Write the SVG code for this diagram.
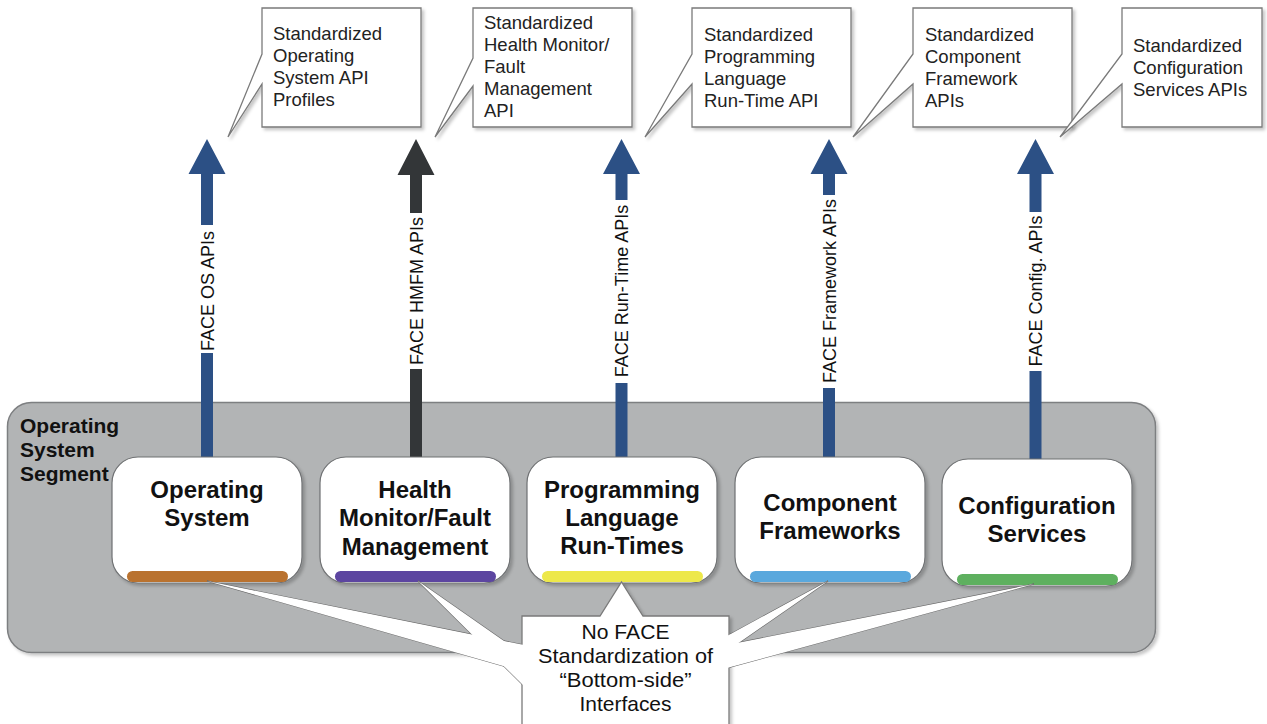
<svg xmlns="http://www.w3.org/2000/svg" width="1267" height="724" viewBox="0 0 1267 724">
  <defs>
    <filter id="shadow" x="-10%" y="-10%" width="130%" height="130%">
      <feDropShadow dx="2.5" dy="2.5" stdDeviation="1.6" flood-color="#000" flood-opacity="0.22"/>
    </filter>
    <style>
      .seg{fill:#b2b4b5;stroke:#7d7f81;stroke-width:1.5}
      .node{fill:#fff;stroke:#6f7173;stroke-width:1.2}
      .ntext{font-family:"Liberation Sans",Arial,sans-serif;font-weight:bold;font-size:24px;fill:#111;text-anchor:middle}
      .segtext{font-family:"Liberation Sans",Arial,sans-serif;font-weight:bold;font-size:21px;fill:#111}
      .callout{fill:#fff;stroke:#7a7a7a;stroke-width:1.3}
      .wedge{fill:#fff;stroke:#6a6a6a;stroke-width:1.2}
      .cover{fill:#fff;stroke:none}
      .ctext{font-family:"Liberation Sans",Arial,sans-serif;font-size:18.5px;fill:#222}
      .btext{font-family:"Liberation Sans",Arial,sans-serif;font-size:21px;fill:#111;text-anchor:middle}
      .api{fill:#2c5085}
      .api-hm{fill:#333638}
      .lblbg{fill:#fff}
      .lbl{font-family:"Liberation Sans",Arial,sans-serif;font-size:18px;fill:#111;text-anchor:middle}
    </style>
  </defs>

  <rect x="0" y="0" width="1267" height="724" fill="#fff"/>

  <!-- Operating System Segment container -->
  <g id="segment">
    <rect class="seg" x="7.5" y="402.5" width="1148" height="250" rx="24" filter="url(#shadow)"/>
    <text class="segtext" x="20" y="433">Operating</text>
    <text class="segtext" x="20" y="457">System</text>
    <text class="segtext" x="20" y="481">Segment</text>
  </g>

  <!-- API arrows -->
  <g id="connectors">
    <polygon class="api" points="207,139 225.5,174 213,174 213,460 201,460 201,174 188.5,174"/>
    <polygon class="api-hm" points="416,139 434.5,175 422,175 422,460 410,460 410,175 397.5,175"/>
    <polygon class="api" points="621.5,139 640,174 627.5,174 627.5,460 615.5,460 615.5,174 603,174"/>
    <polygon class="api" points="829,139 847.5,174 835,174 835,460 823,460 823,174 810.5,174"/>
    <polygon class="api" points="1035.5,139 1054,174 1041.5,174 1041.5,460 1029.5,460 1029.5,174 1017,174"/>

    <rect class="lblbg" x="198" y="225" width="18" height="128"/>
    <text class="lbl" transform="translate(213.5,291) rotate(-90)">FACE OS APIs</text>
    <rect class="lblbg" x="407" y="213" width="18" height="156"/>
    <text class="lbl" transform="translate(422.5,291) rotate(-90)">FACE HMFM APIs</text>
    <rect class="lblbg" x="612.5" y="200" width="18" height="183"/>
    <text class="lbl" transform="translate(628,291) rotate(-90)">FACE Run-Time APIs</text>
    <rect class="lblbg" x="820" y="195" width="18" height="193"/>
    <text class="lbl" transform="translate(835.5,291) rotate(-90)">FACE Framework APIs</text>
    <rect class="lblbg" x="1026.5" y="212" width="18" height="159"/>
    <text class="lbl" transform="translate(1042,291) rotate(-90)">FACE Config. APIs</text>
  </g>

  <!-- Segment components -->
  <g id="node-os">
    <rect class="node" x="112" y="457" width="190" height="126" rx="26" filter="url(#shadow)"/>
    <rect x="127" y="571" width="161" height="11" rx="5.5" fill="#b9722f"/>
    <text class="ntext" x="207" y="498">Operating</text>
    <text class="ntext" x="207" y="526">System</text>
  </g>
  <g id="node-hmfm">
    <rect class="node" x="320" y="457" width="190" height="126" rx="26" filter="url(#shadow)"/>
    <rect x="335" y="571" width="161" height="11" rx="5.5" fill="#5c45a0"/>
    <text class="ntext" x="415" y="498">Health</text>
    <text class="ntext" x="415" y="526">Monitor/Fault</text>
    <text class="ntext" x="415" y="555">Management</text>
  </g>
  <g id="node-plrt">
    <rect class="node" x="527" y="457" width="190" height="126" rx="26" filter="url(#shadow)"/>
    <rect x="542" y="571" width="161" height="11" rx="5.5" fill="#ede84a"/>
    <text class="ntext" x="622" y="498">Programming</text>
    <text class="ntext" x="622" y="526">Language</text>
    <text class="ntext" x="622" y="554">Run-Times</text>
  </g>
  <g id="node-cf">
    <rect class="node" x="735" y="457" width="190" height="126" rx="26" filter="url(#shadow)"/>
    <rect x="750" y="571" width="161" height="11" rx="5.5" fill="#5aa8dd"/>
    <text class="ntext" x="830" y="511">Component</text>
    <text class="ntext" x="830" y="539">Frameworks</text>
  </g>
  <g id="node-cs">
    <rect class="node" x="942" y="459" width="190" height="127" rx="26" filter="url(#shadow)"/>
    <rect x="957" y="574" width="161" height="11" rx="5.5" fill="#5eb05f"/>
    <text class="ntext" x="1037" y="514">Configuration</text>
    <text class="ntext" x="1037" y="542">Services</text>
  </g>

  <!-- Top callouts -->
  <g id="callout-os">
    <path class="callout" d="M262,8 H421 V127 H262 V84 L228,137 L262,54 Z" filter="url(#shadow)"/>
    <text class="ctext" x="273" y="40">Standardized</text>
    <text class="ctext" x="273" y="62">Operating</text>
    <text class="ctext" x="273" y="84">System API</text>
    <text class="ctext" x="273" y="106">Profiles</text>
  </g>
  <g id="callout-hmfm">
    <path class="callout" d="M473,8 H632 V127 H473 V86 L435,137 L473,58 Z" filter="url(#shadow)"/>
    <text class="ctext" x="484" y="29">Standardized</text>
    <text class="ctext" x="484" y="51">Health Monitor/</text>
    <text class="ctext" x="484" y="73">Fault</text>
    <text class="ctext" x="484" y="95">Management</text>
    <text class="ctext" x="484" y="117">API</text>
  </g>
  <g id="callout-plrt">
    <path class="callout" d="M692,8 H851 V127 H692 V84 L645,137 L692,54 Z" filter="url(#shadow)"/>
    <text class="ctext" x="704" y="41">Standardized</text>
    <text class="ctext" x="704" y="63">Programming</text>
    <text class="ctext" x="704" y="85">Language</text>
    <text class="ctext" x="704" y="107">Run-Time API</text>
  </g>
  <g id="callout-cf">
    <path class="callout" d="M913,8 H1072 V127 H913 V84 L853,137 L913,54 Z" filter="url(#shadow)"/>
    <text class="ctext" x="925" y="41">Standardized</text>
    <text class="ctext" x="925" y="63">Component</text>
    <text class="ctext" x="925" y="85">Framework</text>
    <text class="ctext" x="925" y="107">APIs</text>
  </g>
  <g id="callout-cs">
    <path class="callout" d="M1122,8 H1262 V127 H1122 V84 L1060,137 L1122,54 Z" filter="url(#shadow)"/>
    <text class="ctext" x="1133" y="52">Standardized</text>
    <text class="ctext" x="1133" y="74">Configuration</text>
    <text class="ctext" x="1133" y="96">Services APIs</text>
  </g>

  <!-- Bottom-side interfaces callout -->
  <g id="callout-bottom">
    <polygon class="wedge" points="207,581 524,645 524,672"/>
    <polygon class="wedge" points="418,581 524,655 524,686"/>
    <polygon class="wedge" points="828,581 727,636 727,651"/>
    <polygon class="wedge" points="1034,584 727,645 727,668"/>
    <path class="callout" d="M522,616 H600 L621.5,582 L643,616 H729 V740 H522 Z" filter="url(#shadow)"/>
    <polygon class="cover" points="207,581 524,645 524,672"/>
    <polygon class="cover" points="418,581 524,655 524,686"/>
    <polygon class="cover" points="828,581 727,636 727,651"/>
    <polygon class="cover" points="1034,584 727,645 727,668"/>
    <text class="btext" x="625.5" y="639" textLength="88" lengthAdjust="spacingAndGlyphs">No FACE</text>
    <text class="btext" x="625.5" y="663" textLength="175" lengthAdjust="spacingAndGlyphs">Standardization of</text>
    <text class="btext" x="625.5" y="687" textLength="132" lengthAdjust="spacingAndGlyphs">“Bottom-side”</text>
    <text class="btext" x="625.5" y="711" textLength="92" lengthAdjust="spacingAndGlyphs">Interfaces</text>
  </g>
</svg>
